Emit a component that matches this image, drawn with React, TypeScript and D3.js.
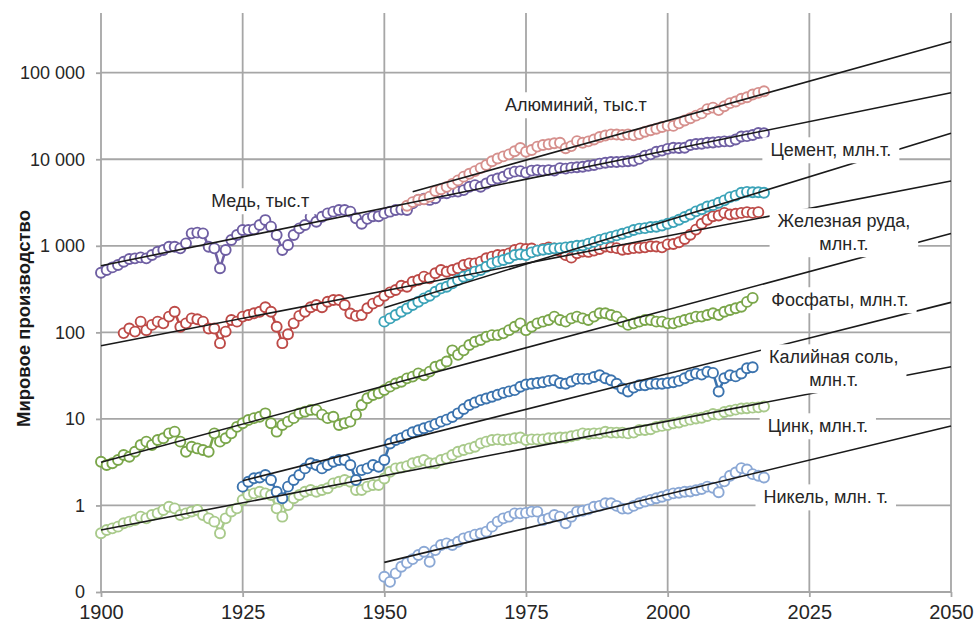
import React, { useRef, useEffect } from 'react';
import * as d3 from 'd3';

// axis ticks
const yearTicks = [1900, 1925, 1950, 1975, 2000, 2025, 2050];
const valueTicks = [0.1, 1, 10, 100, 1000, 10000, 100000];
const valueTickLabels = ['0', '1', '10', '100', '1 000', '10 000', '100 000'];

// copper, thousand t, 1900-2017
const copperValues = [
  489, 525, 563, 600, 655, 703, 716, 735, 716, 782,
  855, 894, 977, 977, 935, 1067, 1393, 1420, 1393, 977,
  935, 550, 894, 1167, 1333, 1523, 1523, 1550, 1740, 1990,
  1665, 1333, 894, 1020, 1333, 1592, 1740, 2170, 1900, 2170,
  2370, 2480, 2590, 2590, 2480, 2080, 1800, 2050, 2200, 2200,
  2370, 2480, 2590, 2620, 2590, 3100, 3390, 3500, 3390, 3550,
  4050, 4050, 4230, 4230, 4400, 4820, 5030, 4820, 5250, 5740,
  6000, 6270, 6870, 7190, 7300, 7000, 7400, 7500, 7400, 7500,
  7400, 7900, 7800, 8000, 8100, 8200, 8400, 8600, 8900, 9100,
  9300, 9300, 9400, 9500, 9600, 10100, 11000, 11400, 12200, 12600,
  13200, 13600, 13500, 13600, 14600, 15000, 15100, 15500, 15600, 15900,
  16100, 16100, 16900, 18300, 18500, 19100, 20100, 20000,
];

// aluminium, thousand t, 1954-2017
const aluminiumValues = [
  2900, 3200, 3400, 3450, 3700, 4300,
  4500, 4800, 5200, 5700, 6300, 6800, 7300, 7900, 8600, 9500,
  10200, 10800, 11400, 12400, 13500, 12200, 12800, 14000, 14600, 14900,
  15300, 15500, 13400, 14200, 16200, 15500, 16100, 16900, 18100, 18800,
  19400, 19300, 19100, 19400, 18900, 19600, 20800, 21600, 22500, 23600,
  24500, 24300, 26000, 28000, 29800, 31900, 33900, 38000, 39500, 37000,
  41000, 44500, 46500, 50000, 52000, 56000, 58500, 61000,
];

// cement, Mt, 1950-2017
const cementValues = [
  133, 145, 159, 173, 189, 207, 226, 247, 265, 295,
  322, 337, 368, 403, 440, 460, 503, 525, 574, 627,
  656, 686, 717, 783, 800, 782, 840, 880, 900, 920,
  935, 940, 960, 975, 1000, 1010, 1060, 1110, 1170, 1220,
  1270, 1320, 1380, 1440, 1520, 1580, 1600, 1650, 1660, 1720,
  1800, 1880, 2000, 2150, 2300, 2500, 2650, 2850, 2950, 3150,
  3350, 3650, 3800, 4100, 4200, 4150, 4150, 4100,
];

// iron ore, Mt, 1904-2016
const ironOreValues = [
  98, 111, 102, 133, 106, 122,
  133, 127, 152, 173, 116, 127, 145, 142, 133, 111,
  111, 75, 102, 139, 133, 152, 159, 166, 173, 195,
  173, 116, 75, 95, 127, 155, 173, 195, 207, 195,
  226, 237, 237, 207, 165, 155, 159, 190, 215, 230,
  265, 290, 309, 345, 337, 385, 403, 440, 421, 481,
  525, 502, 525, 550, 600, 627, 627, 656, 717, 749,
  783, 783, 818, 894, 934, 920, 930, 880, 920, 960,
  930, 870, 780, 730, 820, 860, 850, 880, 920, 980,
  960, 940, 900, 920, 940, 950, 960, 990, 980, 960,
  1040, 1050, 1100, 1200, 1340, 1540, 1800, 2000, 2200, 2240,
  2400, 2300, 2350, 2400, 2450, 2400, 2450,
];

// phosphates, Mt, 1900-2015
const phosphateValues = [
  3.2, 2.93, 3.07, 3.35, 3.83, 3.66, 4.18, 4.99, 5.46, 4.99,
  5.7, 5.97, 6.81, 7.12, 5.46, 4.18, 4.77, 4.56, 4.37, 4.18,
  6.81, 5.46, 5.97, 6.81, 8.1, 8.9, 9.7, 10.2, 10.6, 11.6,
  8.9, 7.12, 8.5, 9.3, 10.2, 11.6, 12.1, 12.7, 12.7, 11.2,
  10.2, 10.6, 8.5, 8.9, 9.3, 11.2, 14.5, 17.3, 18.9, 19.8,
  21.6, 23.6, 25.7, 26.9, 29.4, 30.8, 33.6, 32, 35.2, 40.1,
  41.9, 46, 62, 55, 62, 71.4, 78, 81.6, 89, 93,
  93, 97.4, 106, 116, 127, 106, 116, 127, 133, 139,
  152, 139, 133, 145, 152, 145, 139, 152, 166, 166,
  159, 152, 133, 122, 127, 133, 139, 139, 133, 133,
  127, 127, 133, 139, 145, 152, 152, 159, 166, 159,
  173, 181, 190, 198, 225, 250,
];

// potash, Mt, 1925-2015
const potashValues = [
  1.65, 1.88, 2.06, 2.1, 2.25,
  1.97, 1.44, 1.21, 1.65, 1.97, 2.25, 2.68, 3.07, 2.93, 2.68,
  2.93, 3.2, 3.35, 3.35, 2.93, 1.97, 2.56, 2.68, 2.93, 2.8,
  3.35, 5.2, 5.7, 6.0, 6.5, 7.0, 7.4, 7.8, 8.2, 8.7,
  9.3, 9.8, 10.5, 11.6, 13.0, 14.5, 15.5, 16.5, 17.2, 18.0,
  19.0, 20.0, 20.8, 21.5, 23.5, 25.0, 25.5, 26.0, 26.5, 27.5,
  28.0, 26.0, 25.5, 27.0, 29.0, 29.0, 29.0, 30.5, 32.0, 29.5,
  28.0, 25.5, 22.5, 20.7, 23.0, 24.5, 24.5, 25.5, 25.5, 25.5,
  26.0, 26.5, 27.5, 29.5, 32.0, 33.5, 32.5, 35.0, 34.0, 20.7,
  29.5, 32.0, 31.0, 33.5, 38.5, 39.5,
];

// zinc, Mt, 1900-2017
const zincValues = [
  0.477, 0.52, 0.544, 0.569, 0.622, 0.65, 0.68, 0.742, 0.71, 0.776,
  0.81, 0.886, 0.968, 0.926, 0.776, 0.81, 0.85, 0.886, 0.776, 0.71,
  0.65, 0.477, 0.71, 0.85, 0.926, 1.156, 1.32, 1.38, 1.44, 1.38,
  1.32, 0.926, 0.742, 1.01, 1.21, 1.32, 1.44, 1.51, 1.44, 1.51,
  1.58, 1.8, 1.88, 1.97, 1.88, 1.51, 1.51, 1.65, 1.72, 1.72,
  2.05, 2.45, 2.68, 2.75, 2.85, 3.07, 3.2, 3.35, 3.07, 3.07,
  3.35, 3.5, 3.83, 4.18, 4.37, 4.56, 4.77, 5.22, 5.46, 5.7,
  5.8, 5.7, 5.8, 5.97, 6.1, 5.7, 5.8, 5.8, 5.8, 5.97,
  5.97, 6.1, 6.1, 6.3, 6.5, 6.8, 6.7, 6.8, 6.8, 7.1,
  6.95, 6.95, 6.95, 6.8, 6.95, 7.45, 7.45, 7.6, 8.1, 8.3,
  8.5, 8.9, 9.1, 9.5, 9.8, 10.1, 10.3, 10.8, 11.4, 11.2,
  12.0, 12.4, 12.8, 13.2, 13.3, 13.5, 13.6, 13.9,
];

// nickel, Mt, 1950-2017
const nickelValues = [
  0.15, 0.131, 0.164, 0.196, 0.218, 0.24, 0.268, 0.292, 0.224, 0.305,
  0.349, 0.365, 0.349, 0.381, 0.417, 0.436, 0.46, 0.475, 0.498, 0.569,
  0.65, 0.71, 0.742, 0.81, 0.81, 0.82, 0.848, 0.848, 0.679, 0.71,
  0.775, 0.742, 0.622, 0.742, 0.848, 0.87, 0.9, 0.968, 0.99, 1.06,
  1.06, 0.99, 0.92, 0.92, 0.99, 1.06, 1.11, 1.16, 1.21, 1.26,
  1.32, 1.38, 1.4, 1.44, 1.45, 1.5, 1.55, 1.65, 1.6, 1.42,
  1.9, 2.2, 2.4, 2.7, 2.6, 2.3, 2.2, 2.1,
];

const series = [
  { start: 1900, values: copperValues, color: '#6f5fa3' },
  { start: 1954, values: aluminiumValues, color: '#d6908d' },
  { start: 1904, values: ironOreValues, color: '#bd4a47' },
  { start: 1950, values: cementValues, color: '#3ba3b8' },
  { start: 1900, values: phosphateValues, color: '#7aa64a' },
  { start: 1900, values: zincValues, color: '#a9ca8b' },
  { start: 1925, values: potashValues, color: '#3b73ae' },
  { start: 1950, values: nickelValues, color: '#8ba8d5' },
];

// exponential trends: [year, value] at both ends
const trends = [
  [[1955, 4220], [2050, 228000]],
  [[1900, 589], [2050, 58700]],
  [[1950, 193], [2050, 19950]],
  [[1900, 70], [2050, 5610]],
  [[1900, 3.16], [2050, 1390]],
  [[1925, 1.93], [2050, 222]],
  [[1900, 0.52], [2050, 40.1]],
  [[1950, 0.22], [2050, 8.28]],
];

const seriesLabels = [
  { lines: ['Медь, тыс.т'], year: 1928.1, value: 3300 },
  { lines: ['Алюминий, тыс.т'], year: 1983.8, value: 42400 },
  { lines: ['Цемент, млн.т.'], year: 2028.8, value: 12800 },
  { lines: ['Железная руда,', 'млн.т.'], year: 2031.1, value: 1940 },
  { lines: ['Фосфаты, млн.т.'], year: 2030.4, value: 237 },
  { lines: ['Калийная соль,', 'млн.т.'], year: 2029.3, value: 51.9 },
  { lines: ['Цинк, млн.т.'], year: 2026.5, value: 8.28 },
  { lines: ['Никель, млн. т.'], year: 2027.9, value: 1.25 },
];

const FONT = '"Liberation Sans", Arial, sans-serif';

const App = () => {
  const svgRef = useRef(null);

  useEffect(() => {
    const width = 977;
    const height = 629;
    const margin = { top: 13, right: 26, bottom: 37, left: 101 };
    const gridColor = '#a6a6a6';
    const textColor = '#262626';

    const svg = d3.select(svgRef.current)
      .attr('width', width)
      .attr('height', height);

    svg.selectAll('*').remove();

    svg.append('rect').attr('width', width).attr('height', height).attr('fill', '#fff');

    const x = d3.scaleLinear()
      .domain([1900, 2050])
      .range([margin.left, width - margin.right]);

    const y = d3.scaleLog()
      .domain([0.1, Math.pow(10, 5.69)])
      .range([height - margin.bottom, margin.top]);

    // grid
    const grid = svg.append('g');
    grid.selectAll('.vgrid')
      .data(yearTicks)
      .join('line')
      .attr('x1', d => x(d)).attr('x2', d => x(d))
      .attr('y1', margin.top).attr('y2', height - margin.bottom)
      .attr('stroke', gridColor).attr('stroke-width', 1.8);
    grid.selectAll('.hgrid')
      .data(valueTicks)
      .join('line')
      .attr('x1', x(1900)).attr('x2', x(2050))
      .attr('y1', d => y(d)).attr('y2', d => y(d))
      .attr('stroke', gridColor).attr('stroke-width', 1.8);

    // axes
    const yAxis = d3.axisLeft(y)
      .tickValues(valueTicks)
      .tickFormat((d, i) => valueTickLabels[i])
      .tickSize(5)
      .tickPadding(11);
    svg.append('g')
      .attr('transform', `translate(${margin.left},0)`)
      .call(yAxis)
      .call(g => g.select('.domain').remove())
      .call(g => g.selectAll('line').attr('stroke', gridColor).attr('stroke-width', 1.8))
      .call(g => g.selectAll('text')
        .attr('font-family', FONT).attr('font-size', 18).attr('fill', textColor));

    const xAxis = d3.axisBottom(x)
      .tickValues(yearTicks)
      .tickFormat(d3.format('d'))
      .tickSize(5)
      .tickPadding(8);
    svg.append('g')
      .attr('transform', `translate(0,${height - margin.bottom})`)
      .call(xAxis)
      .call(g => g.select('.domain').remove())
      .call(g => g.selectAll('line').attr('stroke', gridColor).attr('stroke-width', 1.8))
      .call(g => g.selectAll('text')
        .attr('font-family', FONT).attr('font-size', 20).attr('fill', textColor));

    // series
    series.forEach(s => {
      const line = d3.line<number>()
        .x((d, i) => x(s.start + i))
        .y(d => y(d));

      svg.append('path')
        .datum(s.values)
        .attr('fill', 'none')
        .attr('stroke', s.color)
        .attr('stroke-width', 2.6)
        .attr('stroke-linejoin', 'round')
        .attr('d', line);

      svg.append('g')
        .selectAll('circle')
        .data(s.values)
        .join('circle')
        .attr('cx', (d, i) => x(s.start + i))
        .attr('cy', d => y(d))
        .attr('r', 5)
        .attr('fill', '#fff')
        .attr('stroke', s.color)
        .attr('stroke-width', 1.9);
    });

    // trend lines
    const trendLine = d3.line<number[]>()
      .x(d => x(d[0]))
      .y(d => y(d[1]));
    trends.forEach(t => {
      svg.append('path')
        .datum(t)
        .attr('fill', 'none')
        .attr('stroke', '#1a1a1a')
        .attr('stroke-width', 1.6)
        .attr('d', trendLine);
    });

    // labels on white boxes
    seriesLabels.forEach(l => {
      const g = svg.append('g')
        .attr('transform', `translate(${x(l.year)},${y(l.value)})`);
      const text = g.append('text')
        .attr('font-family', FONT)
        .attr('font-size', 18)
        .attr('fill', textColor)
        .attr('text-anchor', 'middle');
      l.lines.forEach((t, i) => {
        text.append('tspan')
          .attr('x', 0)
          .attr('y', i * 23)
          .attr('dy', '0.35em')
          .text(t);
      });
      const box = (text.node() as SVGTextElement).getBBox();
      g.insert('rect', 'text')
        .attr('x', box.x - 8)
        .attr('y', box.y - 3)
        .attr('width', box.width + 16)
        .attr('height', box.height + 6)
        .attr('fill', '#fff');
    });

    // y title
    svg.append('text')
      .attr('transform', `translate(30,${(margin.top + height - margin.bottom) / 2 + 16}) rotate(-90)`)
      .attr('text-anchor', 'middle')
      .attr('font-family', FONT)
      .attr('font-size', 18.5)
      .attr('font-weight', 'bold')
      .attr('fill', '#1a1a1a')
      .text('Мировое производство');
  }, []);

  return (
    <svg ref={svgRef} style={{ position: 'absolute', left: 0, top: 0 }}></svg>
  );
};

export default App;
